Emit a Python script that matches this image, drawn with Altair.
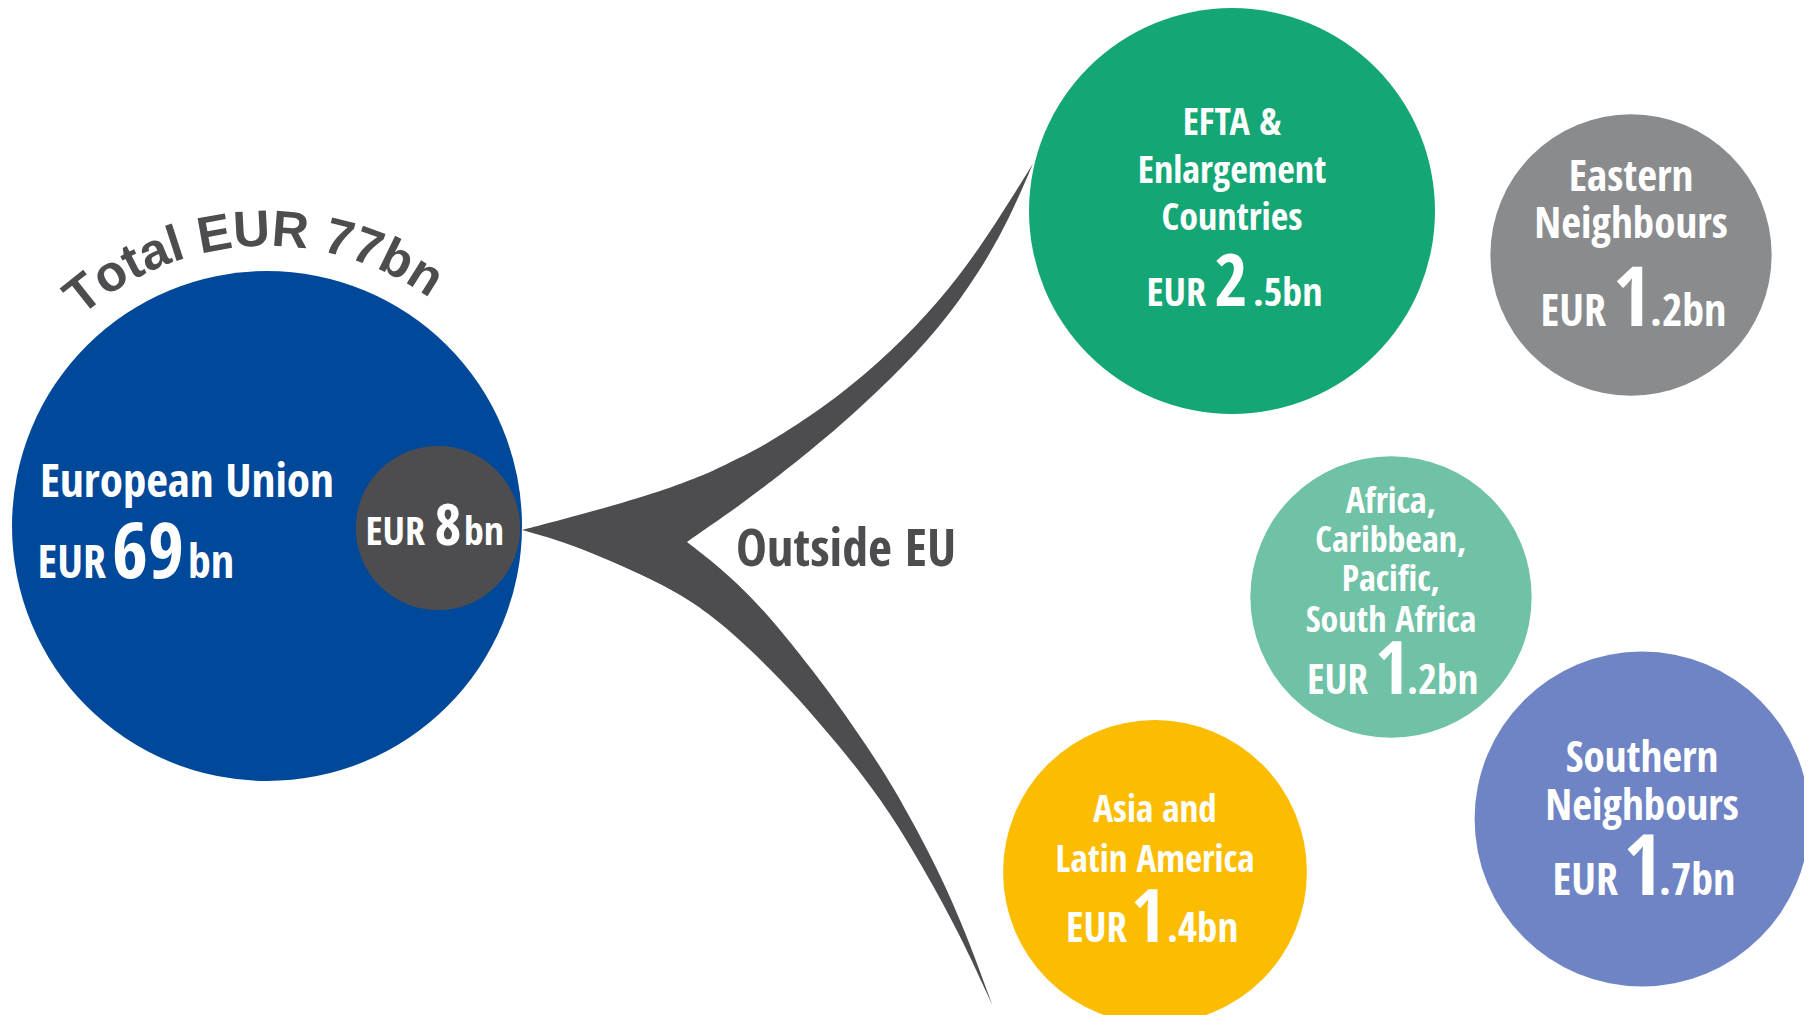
import math
import altair as alt
import pandas as pd

# ---------------- data ----------------
total_text = "Total EUR 77bn"
eu_total = 77
eu_inside = 69
eu_outside = 8

region_names = [
    "EFTA & Enlargement Countries",
    "Eastern Neighbours",
    "Africa, Caribbean, Pacific, South Africa",
    "Southern Neighbours",
    "Asia and Latin America",
]
region_lines = [
    ["EFTA &", "Enlargement", "Countries"],
    ["Eastern", "Neighbours"],
    ["Africa,", "Caribbean,", "Pacific,", "South Africa"],
    ["Southern", "Neighbours"],
    ["Asia and", "Latin America"],
]
region_values = [2.5, 1.2, 1.2, 1.7, 1.4]
region_colors = ["#14a674", "#8a8b8d", "#6fc2a5", "#6f84c4", "#fcbd00"]

eu_labels = ["European Union", "Outside EU"]
eu_colors = ["#00489a", "#4d4d4f"]
dark = "#4d4d4f"

# ---------------- layout (page pixels) ----------------
W, H = 1796, 1007
X = alt.Scale(domain=[8, 8 + W], nice=False, zero=False)
Y = alt.Scale(domain=[8, 8 + H], nice=False, zero=False, reverse=True)

eu_cx, eu_cy = [267, 438], [526, 528]
reg_cx = [1232, 1631, 1391, 1642, 1155]
reg_cy = [211, 255, 597, 819, 872]
reg_line_y = [[135, 183, 230], [191, 238], [513, 552, 591, 632], [772, 820], [822, 872]]
reg_amount_y = [306, 326, 694, 895, 942]
reg_name_size = [38, 43, 36, 43, 37]
reg_eur_size = [40, 44, 41, 44, 41]
reg_big_size = [72, 82, 74, 84, 74]
reg_digit_x = [1231, 1632, 1392, 1643, 1148]
reg_gap_l = [25, 26, 24, 25, 21]
reg_gap_r = [22, 18, 15, 16, 19]

# connector outline: body (tip -> notch), upper horn, lower horn
body_x = [522, 560, 610, 660, 687]
body_top = [530, 520, 506.5, 491.5, 481.2]
body_bot = [530, 540.6, 560, 583.3, 598.3]

upper_x = [687, 710, 740, 760, 790, 840, 890, 940, 980, 1010, 1033]
upper_top = [481.2, 472.5, 457.5, 447.5, 429.5, 395.3, 352.9, 300.9, 247.7, 200.7, 163.5]
upper_bot = [542, 525.9, 505, 489.8, 467, 426, 380, 327.5, 271.5, 217.5, 163.5]

lower_y = [542, 560, 580, 600, 627, 670, 713, 757, 790, 820, 873, 933, 1005]
lower_left = [565, 610, 654, 690, 726.5, 771.7, 811.3, 848.3, 873.4, 894.4, 926.2, 959.2, 992.3]
lower_right = [687, 710.4, 733.4, 753.8, 778.1, 812.5, 844.3, 874.2, 894.7, 911.5, 939.6, 966, 992.3]

COND = "Open Sans Condensed, Roboto Condensed, DejaVu Sans Condensed, sans-serif"
WIDE = "Liberation Sans, Arial, sans-serif"

# ---------------- connector ----------------
body_df = pd.DataFrame({"x": body_x, "top": body_top, "bot": body_bot})
up_df = pd.DataFrame({"x": upper_x, "top": upper_top, "bot": upper_bot})
lo_df = pd.DataFrame({"yy": lower_y, "xl": lower_left, "xr": lower_right})


def vertical_area(df):
    return alt.Chart(df).mark_area(color=dark, interpolate="basis").encode(
        x=alt.X("x:Q", scale=X, axis=None),
        y=alt.Y("top:Q", scale=Y, axis=None),
        y2="bot:Q",
    )


body = vertical_area(body_df)
upper = vertical_area(up_df)
lower = alt.Chart(lo_df).mark_area(color=dark, interpolate="basis", orient="horizontal").encode(
    y=alt.Y("yy:Q", scale=Y, axis=None),
    x=alt.X("xl:Q", scale=X, axis=None),
    x2="xr:Q",
)

# ---------------- circles ----------------
eu_df = pd.DataFrame({"label": ["Total", "Outside EU"], "value": [eu_total, eu_outside],
                      "x": eu_cx, "y": eu_cy, "color": eu_colors})


def eu_circle(df):
    return alt.Chart(df).mark_circle(opacity=1).encode(
        x=alt.X("x:Q", scale=X, axis=None),
        y=alt.Y("y:Q", scale=Y, axis=None),
        size=alt.Size("value:Q", scale=alt.Scale(type="linear", domain=[0, eu_total], range=[0, 510 ** 2]),
                      legend=None),
        color=alt.Color("color:N", scale=None),
    )


eu_big = eu_circle(eu_df.iloc[[0]])
eu_small = eu_circle(eu_df.iloc[[1]])

reg_df = pd.DataFrame({"region": region_names, "value": region_values,
                       "x": reg_cx, "y": reg_cy, "color": region_colors})
reg_circles = alt.Chart(reg_df).mark_circle(opacity=1).encode(
    x=alt.X("x:Q", scale=X, axis=None),
    y=alt.Y("y:Q", scale=Y, axis=None),
    size=alt.Size("value:Q", scale=alt.Scale(type="linear", domain=[0, 2.5], range=[0, 406 ** 2]), legend=None),
    color=alt.Color("color:N", scale=None),
)

# ---------------- labels ----------------
rows = []


def add(text, x, y, size, align, color="#ffffff", font=COND, angle=0):
    rows.append(dict(text=text, x=x, y=y, size=size, align=align, color=color, font=font, angle=angle))


def split_amount(v):
    s = f"{v:.1f}" if v != int(v) else f"{int(v)}"
    if "." in s:
        a, b = s.split(".")
        return a, "." + b + "bn"
    return s, "bn"


for i in range(len(region_names)):
    for line, ly in zip(region_lines[i], reg_line_y[i]):
        add(line, reg_cx[i], ly, reg_name_size[i], "center")
    big, rest = split_amount(region_values[i])
    ay = reg_amount_y[i]
    add("EUR", reg_digit_x[i] - reg_gap_l[i], ay, reg_eur_size[i], "right")
    add(big, reg_digit_x[i], ay, reg_big_size[i], "center")
    add(rest, reg_digit_x[i] + reg_gap_r[i], ay, reg_eur_size[i], "left")

# EU circle
add(eu_labels[0], 40, 497, 47, "left")
big, rest = split_amount(eu_inside)
add("EUR", 106, 578, 46, "right")
add(big, 148, 578, 78, "center")
add(rest, 188, 578, 46, "left")
# inner circle
big, rest = split_amount(eu_outside)
add("EUR", 425, 545, 40, "right")
add(big, 448, 545, 58, "center")
add(rest, 464, 545, 40, "left")
# Outside EU
add(eu_labels[1], 736, 566, 52, "left", color=dark)

# curved "Total EUR 77bn"
em = {"T": .611, "o": .611, "t": .333, "a": .556, "l": .278, " ": .278, "E": .667,
      "U": .722, "R": .722, "7": .556, "b": .611, "n": .611}
arc_size, arc_r, arc_mid = 51, 280, -3.0
total_w = sum(em[c] for c in total_text) * arc_size
s = -total_w / 2
for c in total_text:
    w = em[c] * arc_size
    th = math.radians(arc_mid) + (s + w / 2) / arc_r
    s += w
    if c == " ":
        continue
    add(c, eu_cx[0] + arc_r * math.sin(th), eu_cy[0] - arc_r * math.cos(th), arc_size, "center",
        color=dark, font=WIDE, angle=(math.degrees(th) + 360) % 360)

lab = pd.DataFrame(rows)
text_layers = []
for (align, font), grp in lab.groupby(["align", "font"]):
    text_layers.append(
        alt.Chart(grp).mark_text(align=align, baseline="alphabetic", font=font, fontWeight="bold").encode(
            x=alt.X("x:Q", scale=X, axis=None),
            y=alt.Y("y:Q", scale=Y, axis=None),
            text="text:N",
            size=alt.Size("size:Q", scale=None),
            color=alt.Color("color:N", scale=None),
            angle=alt.Angle("angle:Q", scale=None),
        )
    )

chart = alt.layer(body, upper, lower, eu_big, eu_small, reg_circles, *text_layers).resolve_scale(
    size="independent"
).properties(
    width=W, height=H, padding=0, autosize=alt.AutoSizeParams(type="none"), background="white"
).configure_view(stroke=None)

chart.save("out.html", embed_options={"renderer": "svg", "actions": False})
